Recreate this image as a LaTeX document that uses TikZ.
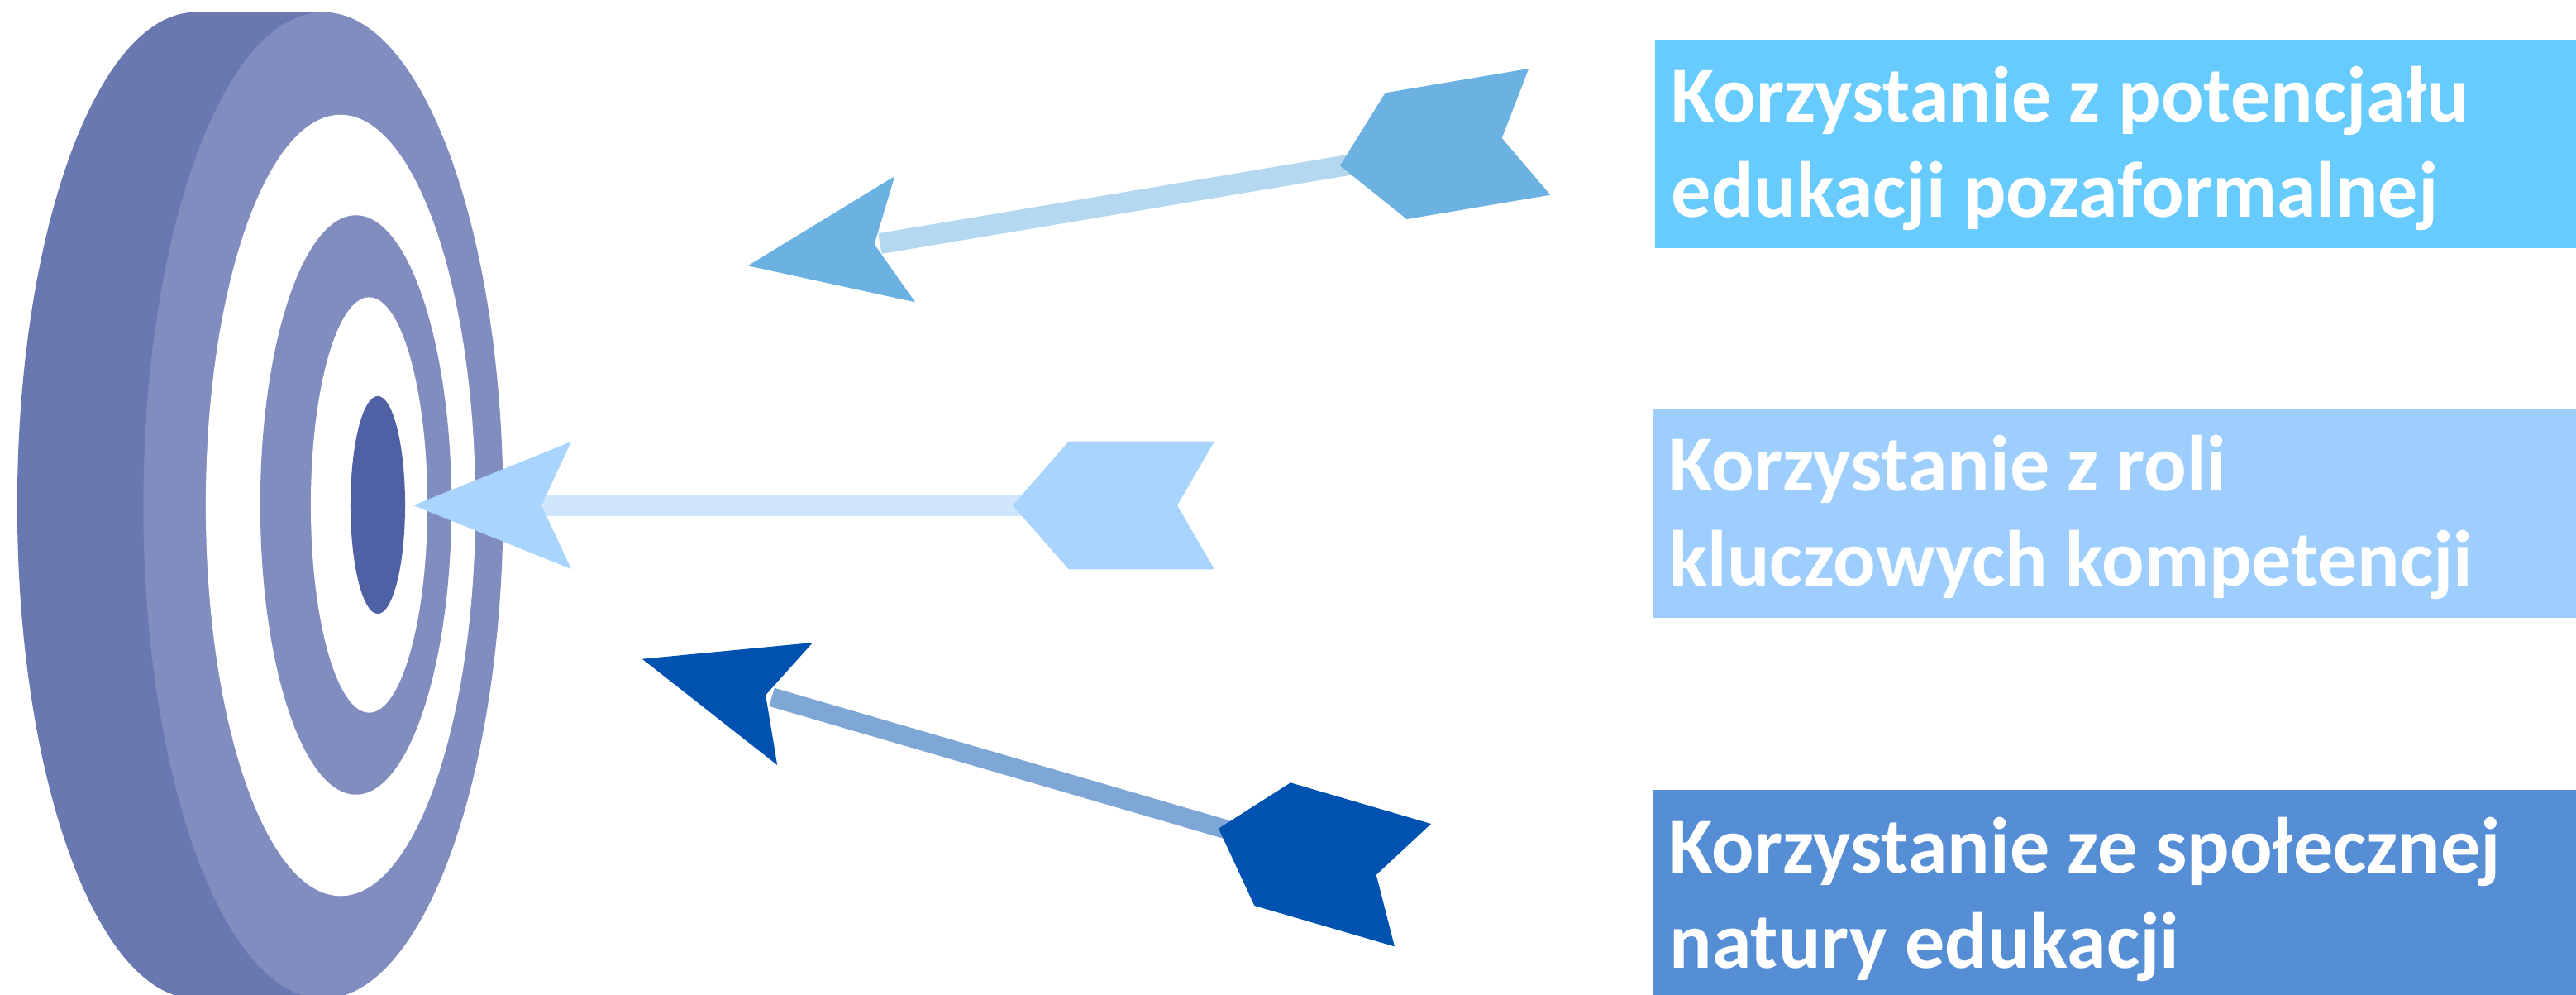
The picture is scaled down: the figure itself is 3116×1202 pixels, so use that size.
\documentclass[tikz,border=0pt]{standalone}
\usepackage{fontspec}
\newfontfamily\boxfont{Carlito}
\definecolor{backc}{HTML}{6A78B1}
\definecolor{frontc}{HTML}{818DBE}
\definecolor{innerc}{HTML}{5060A5}
\definecolor{headA}{HTML}{6BB1E1}
\definecolor{shaftA}{HTML}{B4D8F0}
\definecolor{headB}{HTML}{A8D4FE}
\definecolor{shaftB}{HTML}{D0E6FC}
\definecolor{headC}{HTML}{0052B1}
\definecolor{shaftC}{HTML}{7FA7D6}
\definecolor{boxA}{HTML}{67CBFE}
\definecolor{boxB}{HTML}{9DCEFE}
\definecolor{boxC}{HTML}{558ED5}
\tikzset{
  boxtext/.style={anchor=base west, inner sep=0pt, text=white,
    font=\boxfont\bfseries\fontsize{27.3}{32.7}\selectfont},
  shaftline/.style={line width=0.25cm},
}
\begin{document}
\begin{tikzpicture}[x=0.01cm,y=-0.01cm]
\useasboundingbox (0,0) rectangle (3116,1202);
% target
\fill[backc] (237,611) ellipse [x radius=2.16cm, y radius=5.96cm];
\fill[backc] (237,15) rectangle (392,1207);
\fill[frontc] (391,611) ellipse [x radius=2.175cm, y radius=5.96cm];
\fill[white] (412,611) ellipse [x radius=1.63cm, y radius=4.72cm];
\fill[frontc] (430.5,610.5) ellipse [x radius=1.156cm, y radius=3.50cm];
\fill[white] (446.5,610.5) ellipse [x radius=0.705cm, y radius=2.51cm];
\fill[innerc] (457,610.5) ellipse [x radius=0.33cm, y radius=1.315cm];
% arrow 1
\coordinate (a1s) at (1064.4,294.5);
\coordinate (a1e) at (1633,199.2);
\draw[shaftline, shaftA] (a1s) -- (a1e);
\fill[headA] (904.7,321.3) -- (1082.3,213) -- (1057.6,295.3) -- (1107,365.3) -- cycle;
\fill[headA] (1620.9,200.3) -- (1675.6,112.3) -- (1849.2,83) -- (1816.7,167) -- (1875.3,235.7) -- (1701.6,265) -- cycle;
% arrow 2
\coordinate (a2s) at (655,611);
\coordinate (a2e) at (1240,611);
\draw[shaftline, shaftB, line width=0.254cm] (a2s) -- (a2e);
\fill[headB] (500,611) -- (691,534) -- (655,611) -- (691,688) -- cycle;
\fill[headB] (1225,611) -- (1292.7,533.7) -- (1469,533.7) -- (1424,611) -- (1469,688.3) -- (1292.7,688.3) -- cycle;
% arrow 3
\coordinate (a3s) at (933.5,842.8);
\coordinate (a3e) at (1484,1003);
\draw[shaftline, shaftC, line width=0.23cm] (a3s) -- (a3e);
\fill[headC] (776.8,796.7) -- (983,777) -- (926.1,840.3) -- (940.2,925) -- cycle;
\fill[headC] (1474,1001.7) -- (1561,946.3) -- (1731,996) -- (1664.7,1057.7) -- (1686.9,1144.3) -- (1517.4,1095) -- cycle;
% boxes
\fill[boxA] (2002,48) rectangle (3116,300);
\fill[boxB] (1999,494) rectangle (3116,746.5);
\fill[boxC] (1999,955) rectangle (3116,1210);
\node[boxtext] (t1a) at (2021,147.7) {Korzystanie z potencjału};
\node[boxtext] (t1b) at (2021,262.7) {edukacji pozaformalnej};
\node[boxtext] (t2a) at (2019,593.7) {Korzystanie z roli};
\node[boxtext] (t2b) at (2019,708.7) {kluczowych kompetencji};
\node[boxtext] (t3a) at (2019,1055.3) {Korzystanie ze społecznej};
\node[boxtext] (t3b) at (2019,1170.3) {natury edukacji};
\end{tikzpicture}
\end{document}
